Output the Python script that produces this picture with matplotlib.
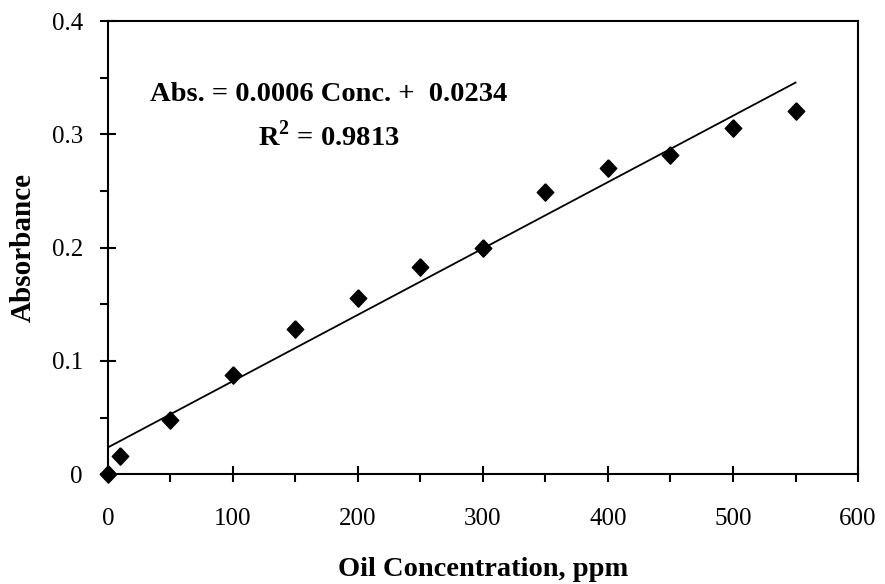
import numpy as np
import matplotlib
matplotlib.use("Agg")
import matplotlib.pyplot as plt
from matplotlib.ticker import MultipleLocator

# Calibration data
conc = [0, 10, 50, 100, 150, 200, 250, 300, 350, 400, 450, 500, 550]
absorb = [0.0, 0.0157, 0.0475, 0.088, 0.128, 0.1555, 0.1825, 0.200, 0.2487, 0.2705, 0.282, 0.306, 0.321]
eq_text = "Abs. = 0.0006 Conc. +  0.0234"
r2_text = "R$^\\mathbf{2}$ = 0.9813"

plt.rcParams['font.family'] = ['Liberation Serif', 'DejaVu Serif']
plt.rcParams['mathtext.fontset'] = 'custom'
plt.rcParams['mathtext.bf'] = 'Liberation Serif:bold'
plt.rcParams['mathtext.rm'] = 'Liberation Serif:bold'

fig = plt.figure(figsize=(8.85, 5.84), dpi=100)
ax = fig.add_axes([0.122, 0.188, 0.8475, 0.776])

# trendline from a linear fit of the points
slope, intercept = np.polyfit(conc, absorb, 1)
xfit = np.array([0, 550])
ax.plot(xfit, slope * xfit + intercept, color='black', lw=1.3, zorder=2)

diamond = [(0, 1), (0.95, 0), (0, -1), (-0.95, 0), (0, 1)]
ax.plot(conc, absorb, linestyle='none', marker=diamond, markersize=12.5,
        color='black', clip_on=False, zorder=3)

ax.set_xlim(0, 600)
ax.set_ylim(0, 0.4)
ax.xaxis.set_minor_locator(MultipleLocator(50))
ax.yaxis.set_minor_locator(MultipleLocator(0.05))
ax.set_xticks([0, 100, 200, 300, 400, 500, 600])
ax.set_xticklabels(['0', '100', '200', '300', '400', '500', '600'])
ax.set_yticks([0, 0.1, 0.2, 0.3, 0.4])
ax.set_yticklabels(['0', '0.1', '0.2', '0.3', '0.4'])

ax.tick_params(which='major', direction='inout', length=12, width=1.5, labelsize=18)
ax.tick_params(axis='y', which='major', pad=12)
ax.tick_params(axis='x', which='major', pad=18)
ax.tick_params(which='minor', direction='out', length=6, width=1.5)
ax.tick_params(top=False, right=False, which='both')
for s in ax.spines.values():
    s.set_linewidth(1.5)

ax.set_xlabel('Oil Concentration, ppm', fontsize=20.5, fontweight='bold')
ax.set_ylabel('Absorbance', fontsize=21, fontweight='bold')
ax.xaxis.set_label_coords(0.5, -0.183)
ax.yaxis.set_label_coords(-0.095, 0.5)

ax.text(0.294, 0.823, eq_text, transform=ax.transAxes, ha='center', va='baseline',
        fontsize=20.5, fontweight='bold')
ax.text(0.294, 0.726, r2_text, transform=ax.transAxes, ha='center', va='baseline',
        fontsize=20.5, fontweight='bold')

fig.savefig('out.png', dpi=100)
